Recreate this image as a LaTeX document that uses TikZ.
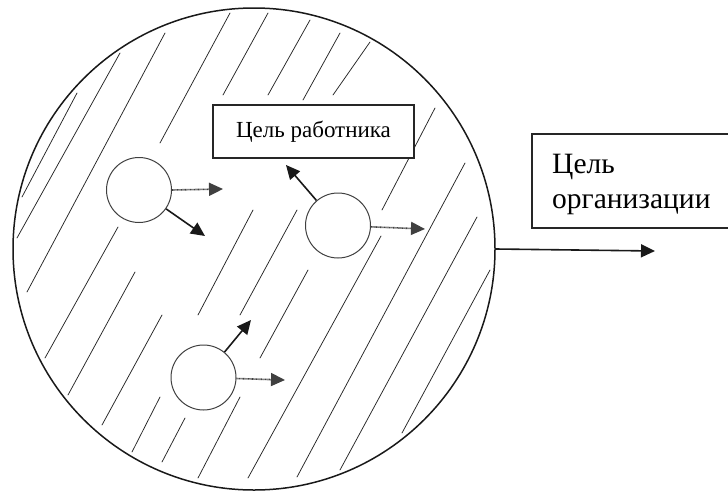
\documentclass[tikz,border=0pt]{standalone}
\usepackage{fontspec}
\setmainfont{Liberation Serif}
\newfontfamily\rufont{Liberation Serif}
\usetikzlibrary{arrows.meta}
\begin{document}
\begin{tikzpicture}[x=1pt,y=-1pt,
  hatch/.style={line width=0.75pt, black!85, line cap=round},
  smallc/.style={circle, draw=black!75, line width=1pt, minimum size=65pt, inner sep=0pt},
  solidarr/.style={line width=1.6pt, black!90, -{Triangle[length=14pt,width=13pt]}},
  dotarr/.style={line width=1.6pt, black!75, dash pattern=on 0.8pt off 0.5pt, -{Triangle[length=14pt,width=13pt,sep=0pt]}},
  boxline/.style={draw=black!85, line width=1.2pt}]
\useasboundingbox (0,0) rectangle (728,490);
\fill[white] (0,0) rectangle (728,490);

% hatching
\foreach \a/\b/\c/\d in {
  22/197/77/93, 17/238/120/53, 27/292/165/33, 160/143/230/13, 223/95/268/13,
  268/95/310/20, 303/100/340/33, 333/95/370/42, 382/210/435/108,
  297/477/465/163, 340/470/477/217, 240/315/297/210, 198/315/253/210,
  45/358/118/227, 248/478/381/236, 260/358/308/270, 402/433/490/270,
  68/395/135/272, 102/425/162/315, 132/452/160/397, 162/462/185/418,
  198/478/240/397}
  \draw[hatch] (\a,\b) -- (\c,\d);

% big circle
\node[circle, draw=black!90, line width=1.5pt, minimum size=482pt, inner sep=0pt] (big) at (254,249) {};

% small circles
\node[smallc] (c1) at (139,190) {};
\node[smallc] (c2) at (338,225.5) {};
\node[smallc] (c3) at (203.5,377.5) {};

% employee goal box
\node[boxline, fill=white, minimum width=201pt, minimum height=53pt, inner sep=0pt,
      font=\rufont\fontsize{23}{27}\selectfont] (wbox) at (313.5,131.5) {Цель работника};

% organisation goal
\draw[boxline] (730,134) -- (532,134) -- (532,228) -- (730,228);
\node[anchor=base west, inner sep=0pt, font=\rufont\fontsize{29.5}{34}\selectfont] (orgA) at (552,173) {Цель};
\node[anchor=base west, inner sep=0pt, font=\rufont\fontsize{29.5}{34}\selectfont] (orgB) at (552,208) {организации};

% arrow targets
\coordinate (c1d) at (223,189);
\coordinate (c1s) at (205,236);
\coordinate (c2s) at (286,165);
\coordinate (c2d) at (425,229);
\coordinate (c3s) at (251,320);
\coordinate (c3d) at (285,380);
\coordinate (bigd) at (655,251);

\draw[dotarr] (c1.east) -- (c1d);
\draw[solidarr] (c1) -- (c1s);
\draw[solidarr] (c2) -- (c2s);
\draw[dotarr] (c2) -- (c2d);
\draw[solidarr] (c3) -- (c3s);
\draw[dotarr] (c3) -- (c3d);
\draw[solidarr] (big.east) -- (bigd);
\end{tikzpicture}
\end{document}
